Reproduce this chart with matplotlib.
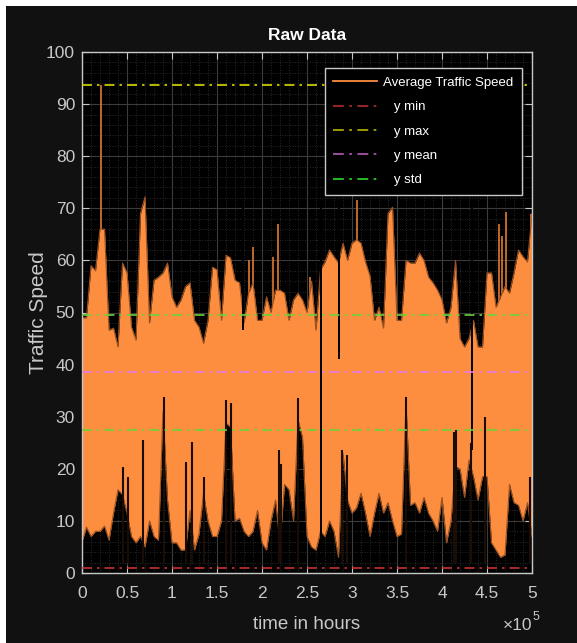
import numpy as np
import matplotlib
matplotlib.use("Agg")
import matplotlib.pyplot as plt
from matplotlib.patches import Rectangle
from matplotlib.lines import Line2D

# ---------------- data ----------------
# time axis in units of 1e5 hours, sampled every 0.05
time_1e5 = [round(0.05 * i, 2) for i in range(101)]

upper_env = [49, 49, 59, 58, 66, 66, 46.6, 47, 43.4, 59.5,
             57.6, 47.2, 44.7, 69, 72.2, 48, 56.2, 56.8, 57.6, 59.5,
             53, 51, 52.4, 55, 55.7, 48.5, 47.2, 44.1, 48.5, 58.7,
             58.2, 48.5, 61, 60.5, 56.2, 55.7, 48, 53.7, 55.7, 48.5,
             48.5, 53, 50, 54.3, 54.3, 53.7, 48.5, 52.4, 53.7, 52.4,
             50, 56, 46.6, 58.2, 59.7, 62, 60.7, 59.5, 63.3, 60,
             63.3, 64, 63.3, 59.7, 57, 48.5, 51, 47, 69, 70.2,
             48.5, 48.5, 60, 59.5, 59.5, 61.4, 60, 56.8, 55.7, 54.3,
             52.4, 48, 51, 60, 45, 43.4, 45, 48.5, 43.4, 43.4,
             57.6, 57.6, 51, 53, 55, 53.7, 57.6, 62, 60.7, 59.7, 69]

lower_env = [6, 8.8, 7, 8, 8, 9, 6.3, 11.5, 16, 15,
             11.5, 7, 5.8, 7, 5, 10, 7, 6.3, 31, 14,
             5.8, 5.8, 4.4, 4.4, 12, 4.4, 7.5, 15.3, 10, 7,
             7, 10, 28.8, 28, 10, 10.5, 8, 7, 8, 12,
             5.8, 4.4, 10, 14, 5.8, 17, 16, 10, 29.4, 26,
             7, 5, 4.4, 8, 7, 10, 8, 3, 23, 14,
             11.5, 12.5, 15.3, 11.5, 7, 11.5, 15.3, 11.5, 13.5, 10,
             7, 7.5, 32.6, 13, 13.5, 11.5, 14.5, 11.5, 10, 8,
             14.5, 5.8, 10, 20.4, 20, 14.5, 21.7, 18.5, 14, 18.5,
             18.5, 5.8, 4.4, 3, 3.5, 17, 13.5, 13, 10, 13.5, 7]

# isolated thin peaks above the upper envelope
peak_x = [0.21, 1.85, 1.90, 2.12, 2.18, 2.53, 3.06, 4.63, 4.67, 4.71, 4.99]
peak_y = [93.7, 60.0, 62.6, 60.7, 67.0, 56.8, 71.6, 67.0, 64.6, 69.3, 69.0]
# isolated thin drops below the upper envelope
drop_x = [1.79, 2.65, 2.85, 4.33]
drop_y = [46.6, 4.4, 41.0, 23.6]
# isolated thin spikes of the lower envelope
low_spike_x = [0.46, 0.51, 0.68, 0.91, 1.16, 1.22, 1.36, 1.60, 1.66, 2.19, 2.21, 2.40,
               2.89, 2.94, 3.60, 4.13, 4.15, 4.32, 4.48, 4.98]
low_spike_y = [20.4, 18.5, 25.5, 33.8, 21.4, 25.2, 18.5, 33.2, 32.6, 23.6, 21.0, 33.6,
               23.6, 22.6, 33.8, 27.0, 27.5, 25.0, 30.0, 18.5]

y_min = 1.0
y_max = 93.7
y_mean = 38.6
y_std_low = 27.4
y_std_high = 49.5

x_ticks = [0, 0.5, 1, 1.5, 2, 2.5, 3, 3.5, 4, 4.5, 5]
x_tick_labels = ["0", "0.5", "1", "1.5", "2", "2.5", "3", "3.5", "4", "4.5", "5"]
y_ticks = [0, 10, 20, 30, 40, 50, 60, 70, 80, 90, 100]

# ---------------- style ----------------
FONT = ["Liberation Sans", "DejaVu Sans"]
TXT = "#c8c8c8"
ORANGE = "#fd8d3f"
DASHDOT = (0, (6, 3, 1.5, 3))

fig = plt.figure(figsize=(5.77, 6.43), dpi=100, facecolor="white")
fig.patches.append(Rectangle((6 / 577, 0), 1, 1 - 6 / 643, transform=fig.transFigure,
                             facecolor="#111111", edgecolor="none", zorder=-10))

ax = fig.add_axes([82 / 577, 1 - 573 / 643, 450 / 577, 521 / 643])
ax.set_facecolor("black")

t = np.array(time_1e5)
ax.vlines(peak_x, 40, peak_y, color="#d0702e", lw=1.3, zorder=1.9)
ax.fill_between(t, lower_env, upper_env, color=ORANGE, linewidth=0, zorder=2)
ax.plot(t, upper_env, color="#9a5222", lw=0.8, zorder=2.1)
ax.plot(t, lower_env, color="#9a5222", lw=0.8, zorder=2.1)
ax.vlines(drop_x, drop_y, 70, color="black", lw=1.4, zorder=2.3)
ax.vlines(low_spike_x, 2, low_spike_y, color="#1a0d05", lw=1.5, zorder=2.3)

ax.axhline(y_min, color="#c83232", lw=1.2, ls=DASHDOT, zorder=3)
ax.axhline(y_max, color="#d8d800", lw=1.2, ls=DASHDOT, zorder=3)
ax.axhline(y_mean, color="#e87ae8", lw=1.2, ls=DASHDOT, zorder=3)
ax.axhline(y_std_low, color="#6ad23c", lw=1.2, ls=DASHDOT, zorder=3)
ax.axhline(y_std_high, color="#6ad23c", lw=1.2, ls=DASHDOT, zorder=3)

ax.set_xlim(0, 5)
ax.set_ylim(0, 100)
ax.set_xticks(x_ticks)
ax.set_xticklabels(x_tick_labels)
ax.set_yticks(y_ticks)
ax.set_xticks(np.arange(0, 5.01, 0.1), minor=True)
ax.set_yticks(np.arange(0, 100.1, 2), minor=True)
ax.grid(True, which="major", color="#3c3c3c", lw=0.8, ls="-", zorder=0)
ax.grid(True, which="minor", color="#343434", lw=0.6, ls=(0, (1, 2)), zorder=0)
ax.set_axisbelow(True)
ax.tick_params(which="major", direction="in", length=5, color=TXT, top=True, right=True,
               labelcolor=TXT, labelsize=12.5)
ax.tick_params(axis="x", which="major", pad=9)
ax.tick_params(axis="y", which="major", pad=5)
ax.tick_params(which="minor", length=0, top=True, right=True)
for lab in ax.get_xticklabels() + ax.get_yticklabels():
    lab.set_family(FONT)
for s in ax.spines.values():
    s.set_color(TXT)
    s.set_linewidth(1.0)

ax.set_title("Raw Data", color="white", fontsize=12.5, fontweight="bold", family=FONT, pad=9)
ax.set_xlabel("time in hours", color=TXT, fontsize=13.5, family=FONT)
ax.xaxis.set_label_coords(0.5, -0.082)
ax.set_ylabel("Traffic Speed", color=TXT, fontsize=15, family=FONT)
ax.yaxis.set_label_coords(-0.075, 0.5)
ax.text(1.0, -0.1, "×10", transform=ax.transAxes, ha="right", va="center",
        color=TXT, fontsize=12.5, family=FONT)
ax.text(1.002, -0.084, "5", transform=ax.transAxes, ha="left", va="center",
        color=TXT, fontsize=9, family=FONT)

handles = [
    Line2D([], [], color=ORANGE, lw=1.3),
    Line2D([], [], color="#a82828", lw=1.3, ls=DASHDOT),
    Line2D([], [], color="#a8a800", lw=1.3, ls=DASHDOT),
    Line2D([], [], color="#a852a8", lw=1.3, ls=DASHDOT),
    Line2D([], [], color="#28c828", lw=1.3, ls=DASHDOT),
]
labels = ["Average Traffic Speed", "   y min", "   y max", "   y mean", "   y std"]
leg = ax.legend(handles, labels, loc="upper right", bbox_to_anchor=(0.978, 0.969),
                facecolor="black", edgecolor=TXT, framealpha=1, fancybox=False,
                prop={"family": FONT, "size": 9.5}, labelcolor="white",
                handlelength=3.3, handletextpad=0.5, labelspacing=0.92,
                borderpad=0.65, borderaxespad=0)
leg.get_frame().set_linewidth(1.0)
leg.set_zorder(5)

fig.savefig("out.png", dpi=100, facecolor=fig.get_facecolor())
